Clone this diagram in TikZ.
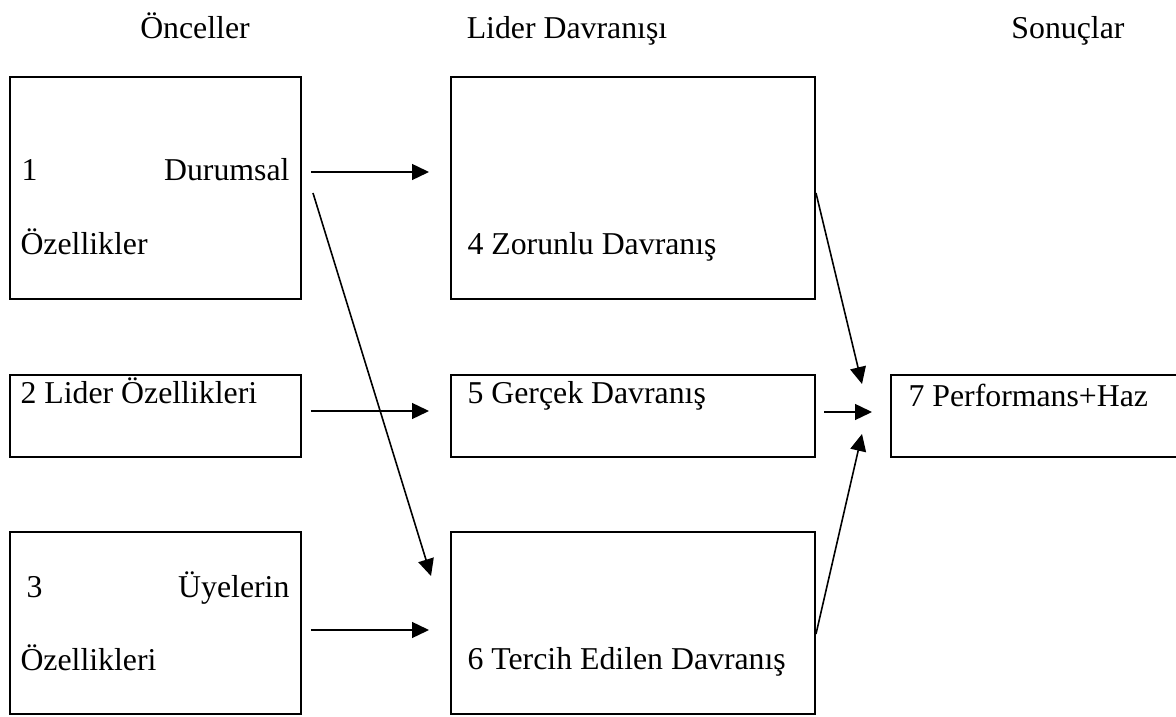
\documentclass[tikz,border=0pt]{standalone}
\usepackage{fontspec}
\setmainfont{Liberation Serif}
\usetikzlibrary{arrows.meta, positioning, fit}

\begin{document}
\begin{tikzpicture}[x=0.3774pt, y=-0.3774pt,
    box/.style={draw, line width=0.75pt, inner sep=0pt, fit={#1}},
    txt/.style={font=\fontsize{12}{14}\selectfont, inner sep=0pt},
    arr/.style={-{Triangle[length=6.4pt,width=6pt]}, line width=0.6pt}]
  \useasboundingbox (0,0) rectangle (1176,717);

  \node[txt, anchor=base] (h1) at (195,39) {Önceller};
  \node[txt, anchor=base] (h2) at (567,39) {Lider Davranışı};
  \node[txt, anchor=base] (h3) at (1068,39) {Sonuçlar};

  \node[box={(10,77) (301,299)}] (b1) {};
  \node[box={(10,375) (301,457)}] (b2) {};
  \node[box={(10,532) (301,714)}] (b3) {};
  \node[box={(451,77) (815,299)}] (b4) {};
  \node[box={(451,375) (815,457)}] (b5) {};
  \node[box={(451,532) (815,714)}] (b6) {};
  \node[box={(891,375) (1182,457)}] (b7) {};

  \node[txt, anchor=base west] (t1a) at (21,181) {1};
  \node[txt, anchor=base east] (t1b) at (290,181) {Durumsal};
  \node[txt, anchor=base west] (t1c) at (20,255) {Özellikler};
  \node[txt, anchor=base west] (t2) at (20,404) {2 Lider Özellikleri};
  \node[txt, anchor=base west] (t3a) at (26,597) {3};
  \node[txt, anchor=base east] (t3b) at (290,597) {Üyelerin};
  \node[txt, anchor=base west] (t3c) at (20,670) {Özellikleri};
  \node[txt, anchor=base west] (t4) at (467,255) {4 Zorunlu Davranış};
  \node[txt, anchor=base west] (t5) at (467,404) {5 Gerçek Davranış};
  \node[txt, anchor=base west] (t6) at (467,669) {6 Tercih Edilen Davranış};
  \node[txt, anchor=base west] (t7) at (908,407) {7 Performans+Haz};

  \draw[arr] ([shift={(9,-16)}]b1.east) -- ([shift={(-21,-16)}]b4.west);
  \draw[arr] ([shift={(11,5)}]b1.east) -- ([shift={(-19,45)}]b6.north west);
  \draw[arr] ([shift={(9,-5)}]b2.east) -- ([shift={(-21,-5)}]b5.west);
  \draw[arr] ([shift={(9,7)}]b3.east) -- ([shift={(-21,7)}]b6.west);
  \draw[arr] ([shift={(0,5)}]b4.east) -- ([shift={(-28,10)}]b7.north west);
  \draw[arr] ([shift={(8,-4)}]b5.east) -- ([shift={(-18,-4)}]b7.west);
  \draw[arr] ([shift={(0,11)}]b6.east) -- ([shift={(-28,-24)}]b7.south west);
\end{tikzpicture}
\end{document}
